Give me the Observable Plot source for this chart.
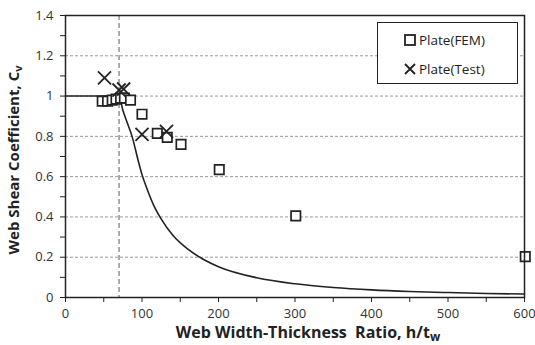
<!DOCTYPE html>
<html>
<head>
<meta charset="utf-8">
<script src="https://cdn.jsdelivr.net/npm/d3@7"></script>
<script src="https://cdn.jsdelivr.net/npm/@observablehq/plot@0.6"></script>
<style>
  html, body { margin: 0; padding: 0; background: #fff; }
  #wrap { position: relative; width: 535px; height: 345px; font-family: "Open Sans", "Noto Sans", sans-serif; }
  #legend { position: absolute; left: 377px; top: 22px; width: 139px; height: 60px; border: 1.5px solid #222; background: #fff; font-size: 13.5px; color: #222; }
  #legend .row { position: absolute; left: 25px; display: flex; align-items: center; gap: 2px; }
</style>
</head>
<body>
<div id="wrap"></div>
<script>
// FEM results
const femX = [48, 55, 61, 66, 72, 77, 85, 100, 120, 133, 151, 201, 301, 601];
const femY = [0.975, 0.975, 0.98, 0.985, 0.99, 0.99, 0.98, 0.91, 0.815, 0.795, 0.76, 0.635, 0.405, 0.203];
// Test results
const testX = [51, 70, 76, 100, 132];
const testY = [1.09, 1.03, 1.035, 0.81, 0.825];
// Design curve
const curveX = [0, 70, 75, 80, 87, 95, 100, 107, 115, 125, 140, 160, 180, 200, 250, 300, 350, 400, 450, 500, 550, 600];
const curveY = [1, 1, 0.93, 0.875, 0.80, 0.68, 0.61, 0.535, 0.46, 0.39, 0.31, 0.24, 0.19, 0.153, 0.098, 0.068, 0.05, 0.038, 0.03, 0.0245, 0.02, 0.017];
const limitX = [70];
const xMajor = [0, 100, 200, 300, 400, 500, 600];
const xMinor = [50, 150, 250, 350, 450, 550];
const yMajor = [0, 0.2, 0.4, 0.6, 0.8, 1, 1.2, 1.4];
const yMinor = [0.1, 0.3, 0.5, 0.7, 0.9, 1.1, 1.3];
const yGrid = [0.2, 0.4, 0.6, 0.8, 1, 1.2];
const labels = { fem: "Plate(FEM)", test: "Plate(Test)" };

const fem = femX.map((x, i) => ({x, y: femY[i]}));
const test = testX.map((x, i) => ({x, y: testY[i]}));
const curve = curveX.map((x, i) => ({x, y: curveY[i]}));

const ink = "#222";
const plot = Plot.plot({
  width: 535, height: 345,
  marginLeft: 65, marginRight: 11, marginTop: 15, marginBottom: 48,
  style: { fontFamily: "'Open Sans', 'Noto Sans', sans-serif", fontSize: "13px", color: "#333", background: "#fff" },
  x: { domain: [0, 600] },
  y: { domain: [0, 1.4] },
  marks: [
    Plot.ruleY(yGrid, { stroke: "#999", strokeDasharray: "3,2", strokeWidth: 1 }),
    Plot.ruleX(limitX, { stroke: "#777", strokeDasharray: "5,3", strokeWidth: 1.2 }),
    Plot.line(curve, { x: "x", y: "y", curve: "monotone-x", stroke: ink, strokeWidth: 1.6 }),
    Plot.dot(fem, { x: "x", y: "y", symbol: "square", r: 5.3, stroke: ink, strokeWidth: 1.7, fill: "#fff" }),
    Plot.dot(test, { x: "x", y: "y", symbol: "times", r: 6, stroke: ink, strokeWidth: 1.8 }),
    Plot.frame({ stroke: ink, strokeWidth: 1.5 }),
    Plot.axisX({ ticks: xMajor, tickFormat: d => String(d), tickSize: 5, tickPadding: 6, label: null, stroke: ink, color: "#333" }),
    Plot.axisX({ ticks: xMinor, tickFormat: () => "", tickSize: 5, label: null, stroke: ink }),
    Plot.axisY({ ticks: yMajor, tickFormat: d => String(d), tickSize: 5, tickPadding: 7, label: null, stroke: ink, color: "#333" }),
    Plot.axisY({ ticks: yMinor, tickFormat: () => "", tickSize: 5, label: null, stroke: ink })
  ]
});
document.getElementById("wrap").appendChild(plot);

const svg = d3.select(plot);
const yl = svg.append("text")
  .attr("transform", "translate(19,160) rotate(-90)")
  .attr("text-anchor", "middle")
  .attr("font-weight", "bold").attr("font-size", 15).attr("fill", "#222");
yl.append("tspan").text("Web Shear Coefficient, C");
yl.append("tspan").attr("font-size", 11).attr("dy", 3).text("v");

const xl = svg.append("text")
  .attr("x", 308).attr("y", 338)
  .attr("text-anchor", "middle")
  .attr("font-weight", "bold").attr("font-size", 16).attr("fill", "#222");
xl.append("tspan").text("Web Width-Thickness  Ratio, h/t");
xl.append("tspan").attr("font-size", 12).attr("dy", 3).text("w");

// legend
const lg = document.createElement("div");
lg.id = "legend";
lg.innerHTML = `
  <div class="row" style="top:8px"><svg width="14" height="14"><rect x="2" y="2" width="10" height="10" fill="#fff" stroke="#222" stroke-width="1.8"/></svg><span>${labels.fem}</span></div>
  <div class="row" style="top:37px"><svg width="14" height="14"><path d="M2,2L12,12M12,2L2,12" stroke="#222" stroke-width="1.9"/></svg><span>${labels.test}</span></div>`;
document.getElementById("wrap").appendChild(lg);
</script>
</body>
</html>
